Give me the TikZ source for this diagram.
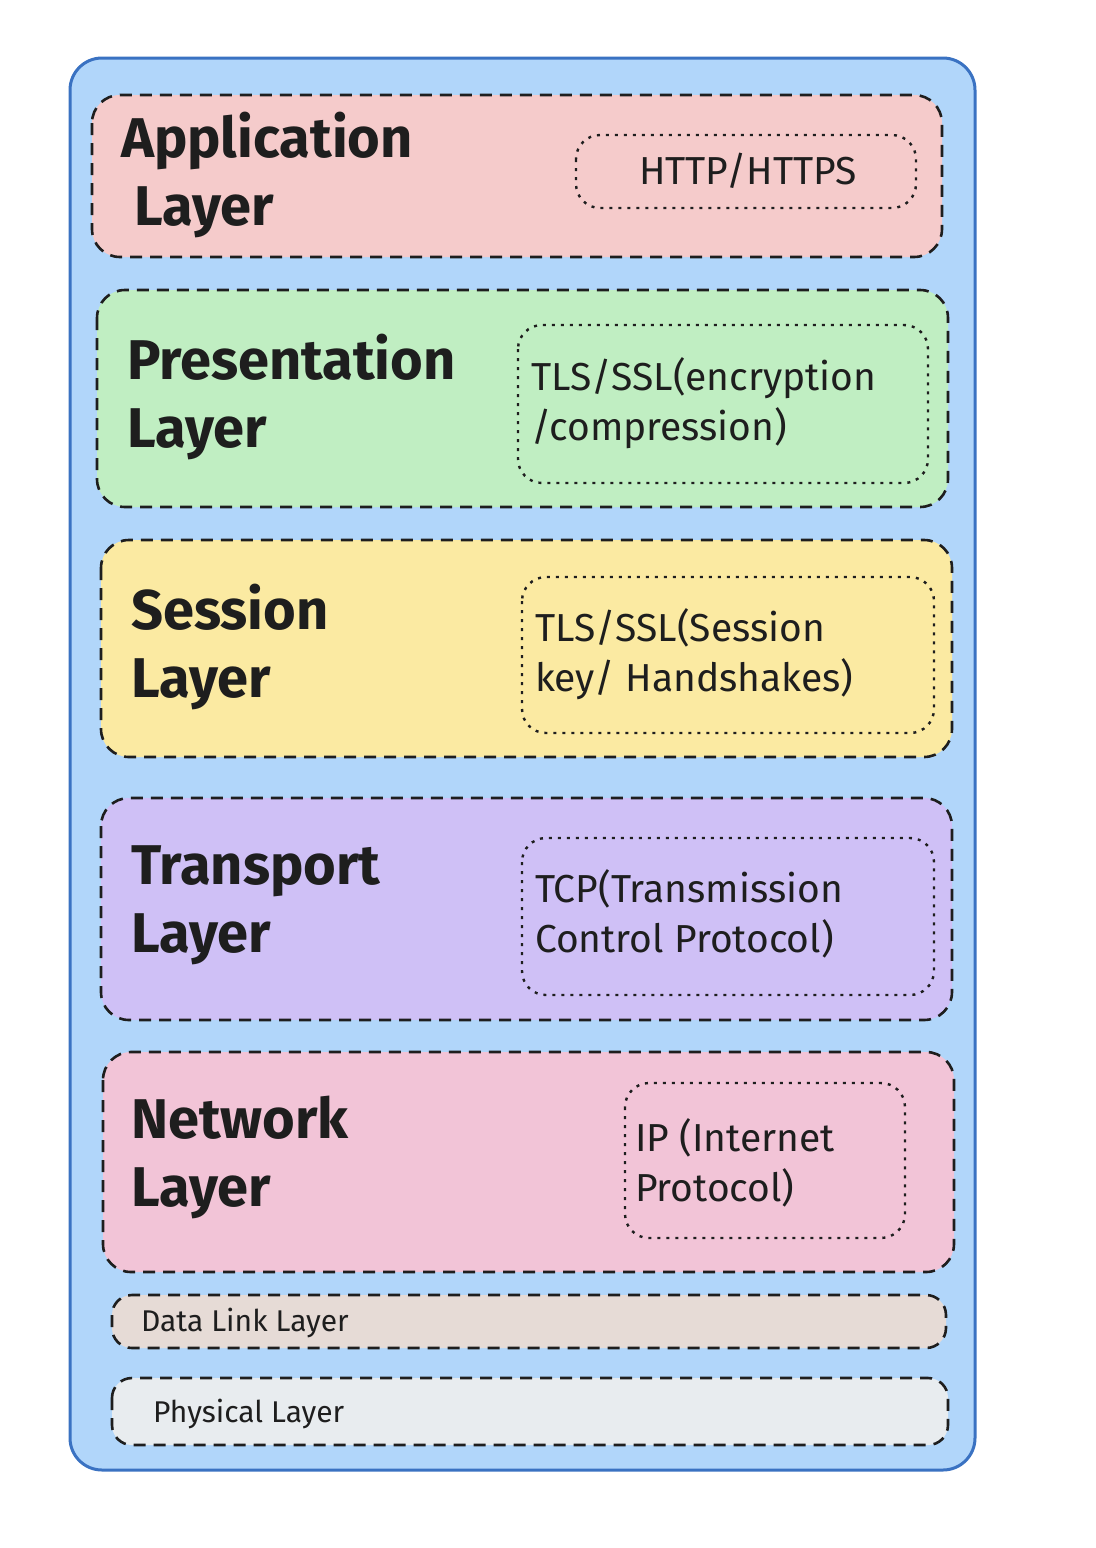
\documentclass[tikz,border=0pt]{standalone}
\usepackage{fontspec}
\setmainfont{Fira Sans}
\definecolor{outerf}{HTML}{B1D6FA}
\definecolor{outerd}{HTML}{3A72C2}
\definecolor{appf}{HTML}{F5CBCB}
\definecolor{presf}{HTML}{C0EEC2}
\definecolor{sessf}{HTML}{FBEAA2}
\definecolor{tranf}{HTML}{CFC0F6}
\definecolor{netf}{HTML}{F2C4D7}
\definecolor{dlf}{HTML}{E6DBD6}
\definecolor{phyf}{HTML}{E8ECEF}
\definecolor{ink}{HTML}{1E1E1E}
\begin{document}
\begin{tikzpicture}[x=0.5pt,y=-0.5pt,
  layer/.style={draw=ink,line width=1.3pt,dash pattern=on 6pt off 4pt,rounded corners=14pt},
  proto/.style={draw=ink,line width=1.2pt,dash pattern=on 1.5pt off 3pt,rounded corners=12pt},
  title/.style={font=\fontsize{28}{34}\selectfont\bfseries,text=ink,anchor=north west,align=left},
  ptext/.style={font=\fontsize{19.5}{25}\selectfont,text=ink,anchor=north west,align=left},
  small/.style={font=\fontsize{15}{16}\selectfont,text=ink,anchor=west}]
\useasboundingbox (0,0) rectangle (1096,1548);
\draw[fill=outerf,draw=outerd,line width=1.5pt,rounded corners=16pt] (70,58) rectangle (975,1470);
% Application
\draw[layer,fill=appf] (92,95) rectangle (942,257);
\node[title] (app) at (114,105) {Application\\\ Layer};
\draw[proto] (576,135) rectangle (916,208);
\node[ptext,anchor=center] (http) at (748,171) {HTTP/HTTPS};
% Presentation
\draw[layer,fill=presf] (97,290) rectangle (948,507);
\node[title] (pres) at (120,327) {Presentation\\Layer};
\draw[proto] (518,325) rectangle (928,483);
\node[ptext] (tls1) at (524,350) {TLS/SSL(encryption\\/compression)};
% Session
\draw[layer,fill=sessf] (101,540) rectangle (952,757);
\node[title] (sess) at (124,577) {Session\\Layer};
\draw[proto] (522,577) rectangle (934,733);
\node[ptext] (tls2) at (528,601) {TLS/SSL(Session\\key/ Handshakes)};
% Transport
\draw[layer,fill=tranf] (101,798) rectangle (952,1020);
\node[title] (tran) at (124,839) {Transport\\Layer};
\draw[proto] (522,838) rectangle (934,995);
\node[ptext] (tcp) at (528,862) {TCP(Transmission\\Control Protocol)};
% Network
\draw[layer,fill=netf] (103,1052) rectangle (954,1272);
\node[title] (net) at (124,1089) {Network\\Layer};
\draw[proto] (625,1083) rectangle (905,1238);
\node[ptext] (ip) at (628,1111) {IP (Internet\\Protocol)};
% Data link
\draw[layer,fill=dlf,rounded corners=10pt] (112,1295) rectangle (946,1348);
\node[small] (dl) at (134,1323) {Data Link Layer};
% Physical
\draw[layer,fill=phyf,rounded corners=10pt] (112,1378) rectangle (948,1445);
\node[small] (phy) at (146,1414) {Physical Layer};
\end{tikzpicture}
\end{document}
